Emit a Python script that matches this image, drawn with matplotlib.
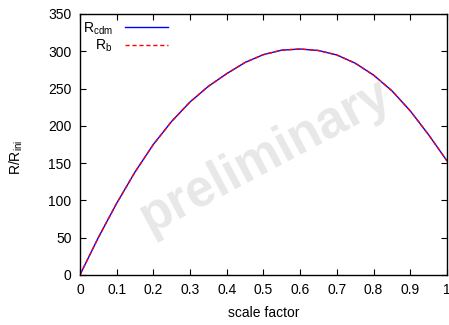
import matplotlib
matplotlib.use("Agg")
import matplotlib.pyplot as plt

plt.rcParams['font.family'] = ['Liberation Sans', 'DejaVu Sans']
plt.rcParams['mathtext.fontset'] = 'custom'
plt.rcParams['mathtext.rm'] = 'Liberation Sans'
plt.rcParams['mathtext.it'] = 'Liberation Sans'

# values
scale_factor = [0.0, 0.05, 0.1, 0.15, 0.2, 0.25, 0.3, 0.35, 0.4, 0.45, 0.5,
                0.55, 0.6, 0.65, 0.7, 0.75, 0.8, 0.85, 0.9, 0.95, 1.0]
R_cdm = [0, 50, 96, 138, 175, 206, 232, 253, 270, 285, 295.5,
         301.5, 303, 301, 295, 284, 268, 247, 220, 188, 153]
R_b = [0, 50, 96, 138, 175, 206, 232, 253, 270, 285, 295.5,
       301.5, 303, 301, 295, 284, 268, 247, 220, 188, 153]

xticks = [0, 0.1, 0.2, 0.3, 0.4, 0.5, 0.6, 0.7, 0.8, 0.9, 1]
xticklabels = ['0', '0.1', '0.2', '0.3', '0.4', '0.5', '0.6', '0.7', '0.8', '0.9', '1']
yticks = [0, 50, 100, 150, 200, 250, 300, 350]

fig = plt.figure(figsize=(4.49, 3.25), dpi=100)
ax = fig.add_axes([0.178, 0.154, 0.8175, 0.803])

ax.plot(scale_factor, R_cdm, color='#0000ff', lw=1.0, label=r'R$_{\rm cdm}$')
ax.plot(scale_factor, R_b, color='#ff0000', lw=1.0, ls=(0, (3, 2)), label=r'R$_{\rm b}$')

ax.text(0.505, 0.455, 'preliminary', transform=ax.transAxes, rotation=28,
        ha='center', va='center', fontsize=37, fontweight='bold',
        color='#e0e0e0', alpha=0.75, zorder=5)

ax.set_xlim(0, 1)
ax.set_ylim(0, 350)
ax.set_xticks(xticks)
ax.set_xticklabels(xticklabels)
ax.set_yticks(yticks)
ax.tick_params(direction='in', length=4, width=0.8, top=True, right=True,
               labelsize=10, pad=6, colors='black')
for s in ax.spines.values():
    s.set_linewidth(1.0)

ax.set_xlabel('scale factor', fontsize=10, labelpad=6)
ax.set_ylabel(r'R/R$_{\rm ini}$', fontsize=10)
ax.yaxis.set_label_coords(-0.15, 0.45)

ax.legend(loc='upper left', bbox_to_anchor=(-0.015, 1.008), frameon=False,
          markerfirst=False, fontsize=10, handlelength=3.1, handletextpad=0.9,
          labelspacing=0.1, borderaxespad=0.2)

fig.savefig('out.png', dpi=100)
